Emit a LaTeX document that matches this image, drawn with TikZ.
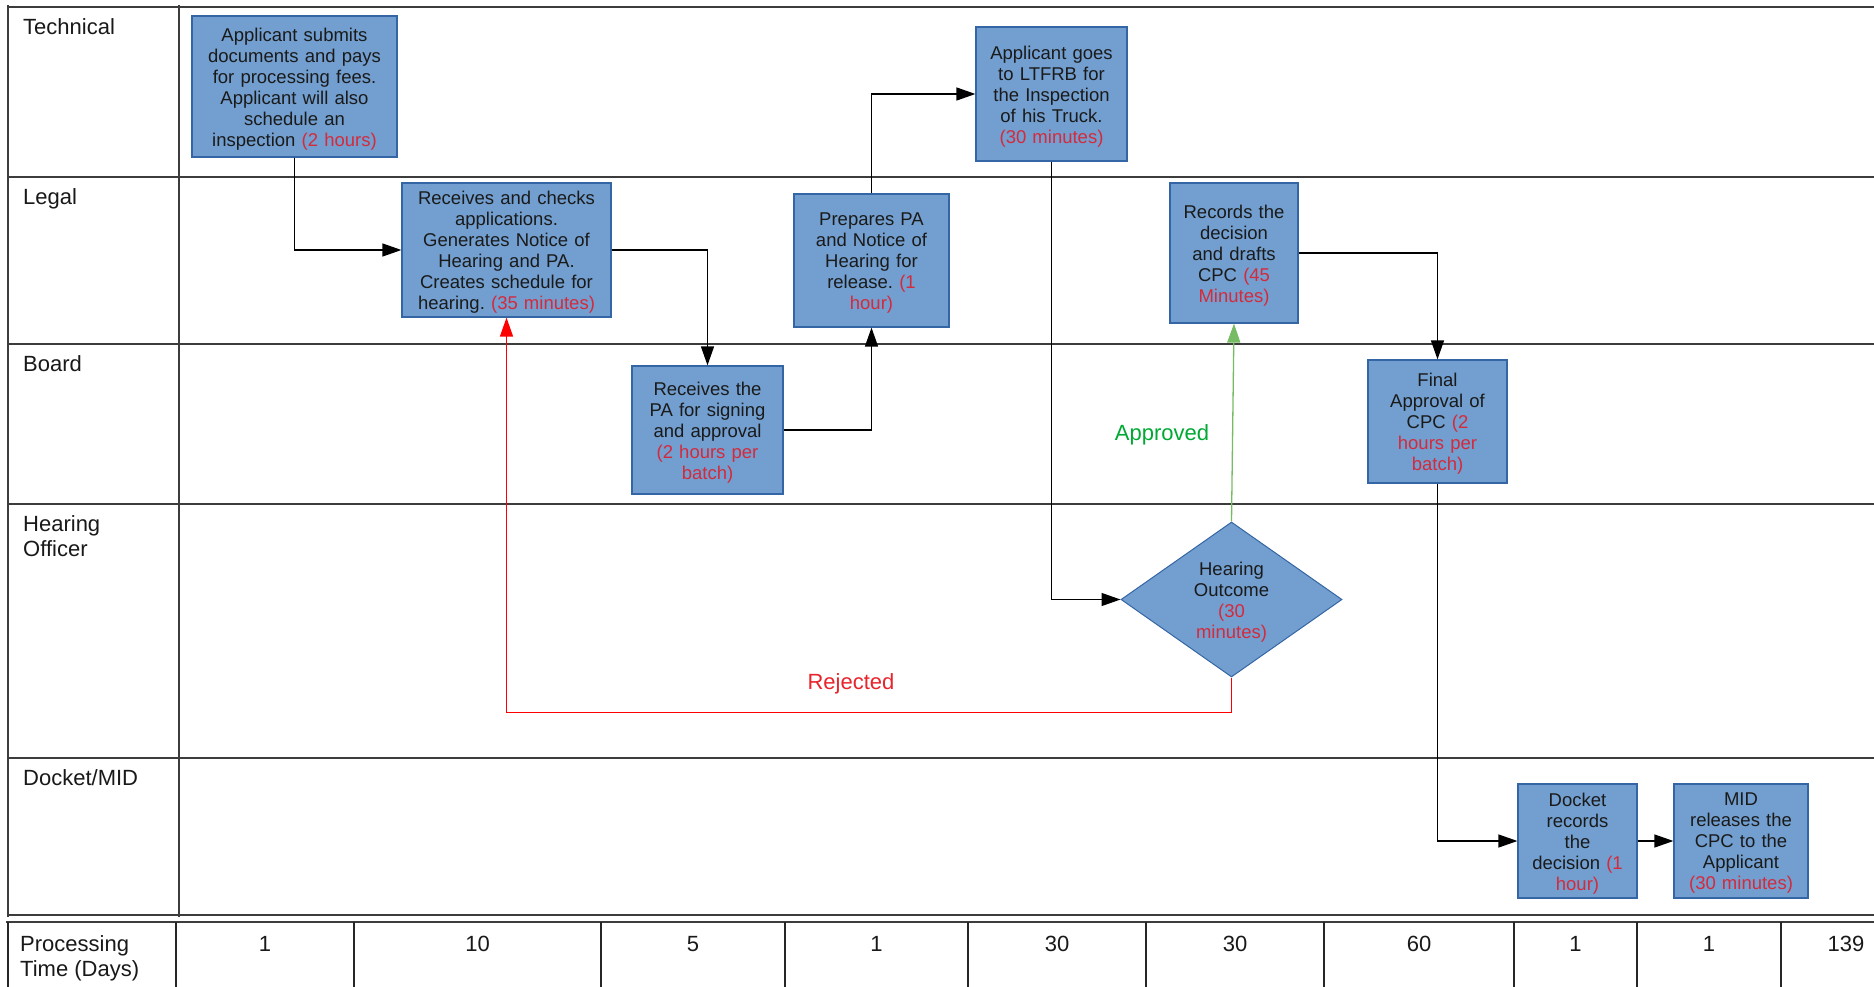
\documentclass[tikz,border=0pt]{standalone}
\usepackage{fontspec}
\setmainfont{Liberation Sans}
\usetikzlibrary{arrows.meta,shapes.geometric}
\definecolor{boxfill}{HTML}{729FCF}
\definecolor{boxline}{HTML}{3465A4}
\definecolor{tred}{HTML}{D42A3C}
\definecolor{rejred}{HTML}{E8242C}
\definecolor{linered}{HTML}{FF0000}
\definecolor{appgreen}{HTML}{00A933}
\definecolor{linegreen}{HTML}{77BC65}
\definecolor{lanegray}{HTML}{3C3C3C}
\definecolor{boxtext}{HTML}{1A1A1A}
\newcommand{\tm}[1]{\textcolor{tred}{#1}}
\frenchspacing
\begin{document}
\begin{tikzpicture}[x=1pt,y=-1pt,
  box/.style={draw=boxline, fill=boxfill, line width=1.2pt, inner sep=0pt, align=center,
    font=\fontsize{18.5}{21}\selectfont\frenchspacing, text=boxtext,
    execute at end node={\vspace*{-5pt}}},
  lane/.style={draw=lanegray, line width=2pt},
  tline/.style={draw=black!85, line width=1.5pt},
  conn/.style={draw=black, line width=1.3pt, -{Triangle[length=19pt,width=13pt]}},
  lbl/.style={anchor=north west, align=left, font=\fontsize{22}{25}\selectfont, inner sep=0pt, text=black!90},
  num/.style={anchor=base, font=\fontsize{22}{25}\selectfont, inner sep=0pt, text=black!90}
]
\useasboundingbox (0,0) rectangle (1874,987);
\fill[white] (0,0) rectangle (1874,987);

% swimlanes
\draw[lane] (8,7) -- (1874,7);
\foreach \y in {177,344,504,758,915} \draw[lane] (8,\y) -- (1874,\y);
\draw[lane] (8,5) -- (8,917);
\draw[lane] (179,5) -- (179,917);

% lane labels
\node[lbl] (lT) at (23,18) {Technical};
\node[lbl] (lL) at (23,188) {Legal};
\node[lbl] (lB) at (23,355) {Board};
\node[lbl] (lH) at (23,515) {Hearing\\Officer};
\node[lbl] (lD) at (23,769) {Docket/MID};

% table
\draw[lane] (6,922) -- (1874,922);
\draw[tline] (8,922) -- (8,987);
\foreach \x in {176,354,601,785,968,1146,1324,1514,1637,1781} \draw[tline] (\x,922) -- (\x,987);
\node[lbl] (lP) at (20,935) {Processing\\Time (Days)};
\node[num] (n1) at (265,951) {1};
\node[num] (n2) at (477.5,951) {10};
\node[num] (n3) at (693,951) {5};
\node[num] (n4) at (876.5,951) {1};
\node[num] (n5) at (1057,951) {30};
\node[num] (n6) at (1235,951) {30};
\node[num] (n7) at (1419,951) {60};
\node[num] (n8) at (1575.5,951) {1};
\node[num] (n9) at (1709,951) {1};
\node[num] (n10) at (1846,951) {139};

% boxes
\node[box, minimum width=205pt, minimum height=141pt, text width=195pt] (r1) at (294.5,86.5)
  {Applicant submits\\documents and pays\\for processing fees.\\Applicant will also\\schedule an\\inspection \tm{(2 hours)}};
\node[box, minimum width=209pt, minimum height=134pt, text width=200pt] (r2) at (506.5,250)
  {Receives and checks\\applications.\\Generates Notice of\\Hearing and PA.\\Creates schedule for\\hearing. \tm{(35 minutes)}};
\node[box, minimum width=151pt, minimum height=128pt, text width=143pt] (r3) at (707.5,430)
  {Receives the\\PA for signing\\and approval\\\tm{(2 hours per}\\\tm{batch)}};
\node[box, minimum width=155pt, minimum height=133pt, text width=147pt] (r4) at (871.5,260.5)
  {Prepares PA\\and Notice of\\Hearing for\\release. \tm{(1}\\\tm{hour)}};
\node[box, minimum width=151pt, minimum height=134pt, text width=143pt] (r5) at (1051.5,94)
  {Applicant goes\\to LTFRB for\\the Inspection\\of his Truck.\\\tm{(30 minutes)}};
\node[box, minimum width=128pt, minimum height=140pt, text width=120pt] (r6) at (1234,253)
  {Records the\\decision\\and drafts\\CPC \tm{(45}\\\tm{Minutes)}};
\node[box, minimum width=139pt, minimum height=123pt, text width=131pt] (r7) at (1437.5,421.5)
  {Final\\Approval of\\CPC \tm{(2}\\\tm{hours per}\\\tm{batch)}};
\node[box, shape=diamond, aspect=1.426, minimum width=221pt, minimum height=155pt, text width=80pt, line width=1pt] (dia) at (1231.5,599.5)
  {Hearing\\Outcome\\\tm{(30}\\\tm{minutes)}};
\node[box, minimum width=119pt, minimum height=114pt, text width=115pt] (r9) at (1577.5,841)
  {Docket\\records\\the\\decision \tm{(1}\\\tm{hour)}};
\node[box, minimum width=134pt, minimum height=114pt, text width=130pt] (r10) at (1741,841)
  {MID\\releases the\\CPC to the\\Applicant\\\tm{(30 minutes)}};

% connectors
\draw[conn] (r1.south) |- (r2.west);
\draw[conn] (r2.east) -| (r3.north);
\draw[conn] (r3.east) -| (r4.south);
\draw[conn] (r4.north) |- (r5.west);
\draw[conn] (r5.south) |- (dia.west);
\draw[conn, draw=linegreen] (dia.north) -- (r6.south);
\draw[conn, draw=linered] (dia.south) -- ++(0,35) coordinate (rj) -| (r2.south);
\draw[conn] (r6.east) -| (r7.north);
\draw[conn] (r7.south) |- (r9.west);
\draw[conn] (r9.east) -- (r10.west);

% branch labels
\node[font=\fontsize{22}{25}\selectfont, text=appgreen, inner sep=0pt] (ap) at (1162,435) {Approved};
\node[font=\fontsize{22}{25}\selectfont, text=rejred, inner sep=0pt] (rjl) at (851,684) {Rejected};
\end{tikzpicture}
\end{document}
